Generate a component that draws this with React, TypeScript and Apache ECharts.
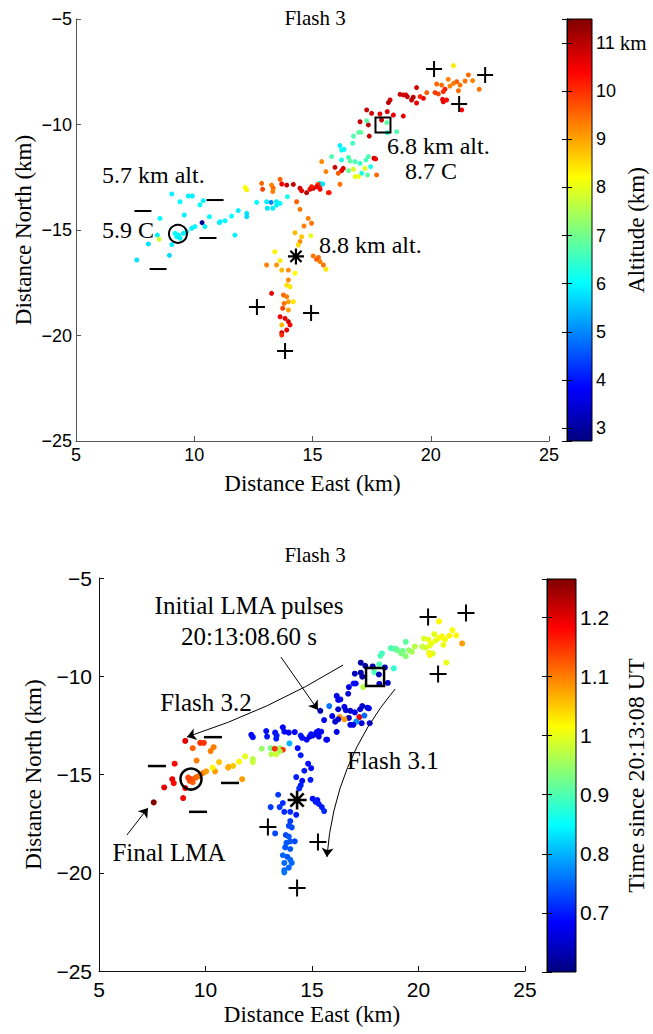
import React, { useEffect, useRef } from "react";
import * as echarts from "echarts";

// ---- LMA source points (same sources in both panels) ----
const eastKm = [
  // west branch
  9.05, 9.75, 9.92, 9.40, 10.38, 10.24, 9.58, 8.55, 8.44, 8.06, 9.05, 9.26, 9.40, 9.33, 9.19, 9.54, 9.68, 9.89, 10.03, 10.45,
  10.64, 11.09, 11.30, 11.06, 11.58, 11.86, 12.22, 12.22, 11.72, 8.95, 7.57, 12.64, 13.06, 13.48, 13.63, 13.48, 13.09, 13.32, 13.94, 15.30,
  10.33, 13.25, 8.51, 12.15, 12.22,
  // horizontal junction
  12.85, 12.89, 13.27, 13.34, 13.32, 13.63, 13.70, 13.91, 14.19, 14.47, 14.54, 14.75, 14.89, 15.03, 15.22, 15.32, 15.67,
  // southern branch
  14.33, 14.47, 14.82, 14.96, 14.64, 14.93, 14.26, 14.54, 14.47, 14.40, 13.41, 13.63, 13.48, 13.06, 13.70, 13.98, 14.26, 13.98,
  13.91, 14.05, 13.77, 13.91, 14.19, 13.98, 13.80, 13.74, 13.98, 13.63, 13.84, 13.98, 14.05, 13.91, 13.70, 13.70, 13.27, 13.70,
  // east spur near asterisk
  15.03, 15.25, 15.32, 15.46, 15.57, 15.17,
  // north-east arm
  20.96, 20.74, 20.25, 20.46, 20.60, 20.81, 20.96, 21.10, 21.24, 21.45, 21.59, 21.77, 22.05, 20.53, 21.17, 20.50, 20.67, 20.53,
  20.32, 20.18, 19.83, 19.69, 19.55, 19.40, 19.26, 19.19, 19.40, 18.84, 18.70, 18.95, 19.01, 18.28, 18.21, 18.84, 17.29, 17.50,
  17.85, 18.16, 18.42, 17.92, 17.36, 17.01, 17.40, 21.31,
  // middle cluster
  17.29, 18.14, 18.56, 18.16, 17.05, 16.95, 16.73, 16.70, 16.16, 16.23, 16.33, 15.81, 16.23, 16.52, 16.59, 16.80, 17.01, 17.26,
  17.36, 17.60, 17.67, 17.22, 17.33, 17.08, 16.94, 16.80, 16.73, 16.52, 16.30, 16.23, 16.09, 15.95, 15.57, 15.39, 16.16, 17.71,
  17.46, 15.43, 15.18, 14.96, 15.71, 15.32,
];
const northKm = [
  -13.29, -13.39, -13.39, -13.66, -13.61, -13.81, -14.29, -14.45, -15.24, -15.66, -15.69, -15.32, -15.39, -15.24, -15.16, -15.16, -15.08, -14.92, -14.84, -14.84,
  -14.37, -14.61, -14.56, -14.65, -14.34, -14.08, -14.21, -14.37, -15.24, -16.20, -16.42, -13.69, -13.66, -13.66, -13.74, -13.82, -13.97, -13.97, -13.42, -12.79,
  -14.65, -13.69, -15.44, -12.98, -13.10,
  -12.79, -13.07, -12.87, -13.02, -13.18, -12.60, -12.82, -12.87, -12.84, -13.02, -13.14, -13.23, -13.07, -13.02, -12.84, -12.87, -13.23,
  -13.66, -14.02, -14.45, -14.68, -14.81, -15.27, -15.13, -15.32, -15.55, -15.71, -16.03, -16.45, -16.66, -16.66, -16.90, -16.90, -17.05, -17.37,
  -17.61, -17.69, -18.08, -18.16, -18.40, -18.40, -18.48, -18.71, -18.79, -19.11, -19.19, -19.34, -19.50, -19.74, -19.87, -19.98, -18.00, -19.50,
  -16.23, -16.30, -16.50, -16.66, -16.86, -16.39,
  -7.21, -7.86, -8.08, -8.13, -8.33, -8.18, -8.05, -7.97, -8.13, -7.94, -7.65, -7.92, -8.33, -8.44, -8.40, -8.81, -8.84, -8.92,
  -8.55, -8.49, -8.49, -8.76, -8.68, -8.25, -8.71, -8.84, -8.98, -8.60, -8.57, -8.60, -8.68, -8.84, -8.96, -9.60, -9.31, -9.47,
  -9.50, -9.39, -9.55, -9.79, -10.02, -9.87, -10.55, -9.31,
  -9.82, -9.91, -10.34, -10.39, -10.37, -10.37, -10.55, -10.89, -11.00, -11.21, -11.18, -11.52, -11.68, -11.56, -11.73, -11.76, -11.84, -11.68,
  -11.52, -11.60, -11.63, -12.08, -12.39, -12.31, -12.47, -12.47, -12.12, -12.19, -12.08, -12.19, -12.31, -12.03, -12.23, -11.76, -12.83, -12.39,
  -12.00, -12.82, -12.95, -12.95, -13.23, -13.07,
];
const altitudeKm = [
  5.9, 5.9, 5.9, 6.0, 5.9, 6.0, 5.9, 6.0, 5.9, 5.8, 5.9, 6.0, 5.9, 5.9, 6.0, 5.9, 6.0, 5.9, 6.0, 5.9,
  6.0, 5.9, 6.0, 5.9, 6.0, 5.9, 5.8, 5.7, 5.9, 5.7, 5.8, 6.0, 5.9, 5.9, 6.0, 5.9, 5.8, 5.9, 6.2, 5.9,
  2.9, 5.0, 7.8, 8.2, 8.3,
  9.5, 9.8, 9.3, 9.5, 9.3, 9.6, 10.5, 10.8, 10.9, 10.8, 10.6, 11.0, 10.5, 10.8, 9.8, 10.1, 10.2,
  9.6, 9.4, 9.3, 9.4, 9.3, 8.0, 8.8, 8.7, 9.2, 8.5, 8.3, 8.4, 9.1, 9.3, 8.8, 9.2, 8.2, 9.2,
  8.5, 8.4, 9.5, 9.3, 8.4, 9.0, 9.4, 9.8, 9.0, 10.5, 10.6, 10.8, 10.5, 10.6, 10.7, 10.0, 10.6, 8.8,
  9.4, 9.5, 9.3, 9.4, 8.4, 9.6,
  8.4, 9.3, 9.5, 9.5, 10.2, 9.3, 9.3, 9.6, 9.4, 9.4, 9.5, 9.3, 9.4, 10.0, 9.5, 10.5, 10.3, 10.6,
  9.8, 9.9, 9.6, 10.6, 10.1, 10.8, 11.0, 10.9, 10.6, 10.8, 10.9, 10.7, 10.9, 10.8, 11.0, 10.6, 10.9, 10.8,
  10.6, 10.8, 10.5, 10.9, 11.0, 10.9, 10.8, 10.4,
  6.8, 6.8, 6.7, 6.4, 6.9, 6.8, 6.7, 6.6, 5.9, 6.2, 6.0, 6.7, 6.2, 6.6, 6.8, 6.6, 6.5, 6.6,
  6.7, 10.8, 10.5, 7.9, 6.8, 6.3, 8.1, 8.0, 7.9, 6.9, 10.8, 10.6, 9.6, 10.9, 9.3, 9.2, 9.4, 9.5,
  6.2, 5.8, 10.6, 10.2, 10.2, 10.4,
];
const timeSec = [
  1.20, 1.15, 1.15, 1.12, 1.10, 1.10, 1.10, 1.18, 1.20, 1.20, 1.18, 1.13, 1.12, 1.13, 1.14, 1.12, 1.11, 1.10, 1.08, 1.08,
  1.05, 1.07, 1.05, 1.07, 1.02, 1.00, 0.97, 0.98, 1.08, 1.19, 1.26, 0.95, 0.93, 0.95, 1.15, 0.96, 0.97, 0.98, 0.80, 0.68,
  1.02, 1.15, 1.18, 0.68, 0.69,
  0.69, 0.70, 0.69, 0.70, 0.70, 0.68, 0.69, 0.68, 0.68, 0.70, 0.69, 0.68, 0.68, 0.67, 0.68, 0.68, 0.67,
  0.69, 0.70, 0.69, 0.69, 0.70, 0.70, 0.70, 0.69, 0.70, 0.71, 0.72, 0.71, 0.72, 0.72, 0.71, 0.71, 0.70, 0.72,
  0.73, 0.73, 0.73, 0.74, 0.73, 0.74, 0.74, 0.74, 0.74, 0.75, 0.74, 0.75, 0.75, 0.75, 0.75, 0.76, 0.73, 0.75,
  0.69, 0.69, 0.70, 0.70, 0.71, 0.70,
  1.02, 1.00, 0.99, 1.00, 1.01, 1.00, 1.01, 1.02, 1.01, 1.02, 1.01, 1.02, 1.08, 1.00, 1.00, 1.00, 0.99, 1.02,
  0.99, 0.98, 0.97, 0.96, 0.95, 0.91, 0.92, 0.93, 0.94, 0.90, 0.90, 0.91, 0.92, 0.89, 0.90, 0.88, 0.63, 0.62,
  0.63, 0.90, 0.64, 0.90, 0.63, 0.64, 0.97, 1.00,
  0.63, 0.64, 0.65, 0.64, 0.67, 0.69, 0.67, 0.66, 0.67, 0.68, 0.67, 0.76, 0.65, 0.67, 0.66, 0.65, 0.67, 0.66,
  0.65, 0.66, 0.67, 1.20, 0.66, 0.78, 0.67, 0.66, 0.65, 1.08, 1.09, 0.66, 0.65, 0.67, 0.68, 0.63, 0.67, 0.67,
  0.75, 0.68, 0.68, 0.69, 0.68, 0.67,
];

// ---- charge / reference markers ----
const topPlus = [[20.14, -7.37], [22.3, -7.65], [21.2, -9.03], [12.65, -18.65], [14.94, -18.93], [13.84, -20.73]];
const topMinus = [[7.83, -14.1], [10.88, -13.58], [10.58, -15.38], [8.47, -16.85]];
const topCircle = [[9.31, -15.18]];
const topSquare = [[17.98, -10.02]];
const topStar = [[14.3, -16.25]];
const botPlus = [[20.45, -6.98], [22.23, -6.78], [20.92, -9.89], [12.93, -17.67], [15.28, -18.43], [14.3, -20.78]];
const botMinus = [[7.72, -14.57], [10.35, -13.1], [11.15, -15.43], [9.65, -16.9]];
const botCircle = [[9.32, -15.23]];
const botSquare = [[17.96, -10.04]];
const botStar = [[14.3, -16.3]];

// arrows (bottom panel) : start, end, curveness
const arrowLines = [
  { from: [13.54, -9.02], to: [15.28, -11.72], curve: 0 },
  { from: [16.46, -9.43], to: [9.13, -13.09], curve: 0.06 },
  { from: [18.9, -10.65], to: [15.7, -19.2], curve: -0.16 },
  { from: [6.31, -18.08], to: [7.3, -16.7], curve: 0 },
];

const altRange = [2.73, 11.5];
const timeRange = [0.6, 1.265];

const JET = ["#00007f", "#0000ff", "#007fff", "#00ffff", "#7fff7f", "#ffff00", "#ff7f00", "#ff0000", "#7f0000"];

const SERIF = "'Liberation Serif', 'Times New Roman', serif";
const SANS = "'Liberation Sans', Arial, Helvetica, sans-serif";

const G_TOP = { left: 76, top: 19, width: 473, height: 422 };
const G_BOT = { left: 99, top: 578, width: 426, height: 393 };
const CB_TOP = { left: 567, top: 19, width: 25, height: 422 };
const CB_BOT = { left: 547, top: 579, width: 29, height: 393 };

const minusFmt = (v: number) => (v < 0 ? "\u2212" + Math.abs(v) : String(v));

function mainX(gridIndex: number, fs: number, color: string, margin: number, gap: number) {
  return {
    type: "value", gridIndex, min: 5, max: 25, interval: 5,
    axisLine: { show: true, lineStyle: { color, width: 1 } },
    axisTick: { show: true, inside: true, length: 5, lineStyle: { color } },
    axisLabel: { color: "#000", fontSize: fs, fontFamily: SANS, margin, formatter: minusFmt },
    splitLine: { show: false },
    name: "Distance East (km)", nameLocation: "middle", nameGap: gap, nameMoveOverlap: false,
    nameTextStyle: { color: "#000", fontSize: 23, fontFamily: SERIF },
  };
}
function mainY(gridIndex: number, fs: number, color: string, margin: number, gap: number) {
  return {
    type: "value", gridIndex, min: -25, max: -5, interval: 5,
    axisLine: { show: true, lineStyle: { color, width: 1 } },
    axisTick: { show: true, inside: true, length: 5, lineStyle: { color } },
    axisLabel: { color: "#000", fontSize: fs, fontFamily: SANS, margin, formatter: minusFmt },
    splitLine: { show: false },
    name: "Distance North (km)", nameLocation: "middle", nameGap: gap, nameRotate: 90, nameMoveOverlap: false,
    nameTextStyle: { color: "#000", fontSize: 23, fontFamily: SERIF },
  };
}

function gradientRect(g: any) {
  return {
    type: "rect", z: -1, silent: true,
    shape: { x: g.left, y: g.top, width: g.width, height: g.height },
    style: {
      fill: new echarts.graphic.LinearGradient(0, 1, 0, 0, JET.map((c, i) => ({ offset: i / (JET.length - 1), color: c }))),
    },
  };
}

function markerSeries(x: number, data: number[][], symbol: string, size: any, filled: boolean, bw: number) {
  return {
    type: "scatter", xAxisIndex: x, yAxisIndex: x, data, symbol, symbolSize: size, silent: true, z: 4,
    itemStyle: filled
      ? { color: "#000", opacity: 1 }
      : { color: "rgba(0,0,0,0)", borderColor: "#000", borderWidth: bw, opacity: 1 },
  };
}

const PLUS = "path://M5,0L5,10M0,5L10,5";
const STAR = "path://M5,0L5,10M0,5L10,5M1.5,1.5L8.5,8.5M1.5,8.5L8.5,1.5";

function txt(text: string, x: number, y: number, size: number, align = "center") {
  return {
    type: "text", x, y, silent: true,
    style: { text, fill: "#000", fontSize: size, fontFamily: SERIF, align, verticalAlign: "middle" },
  };
}

const GRID_BASE = { containLabel: false, outerBoundsMode: "none" };

export default function App() {
  const ref = useRef<HTMLDivElement>(null);
  useEffect(() => {
    const chart = echarts.init(ref.current!, null, { renderer: "svg" });
    const topData = eastKm.map((e, i) => [e, northKm[i], altitudeKm[i]]);
    const botData = eastKm.map((e, i) => [e, northKm[i], timeSec[i]]);

    const option: any = {
      animation: false,
      backgroundColor: "#fff",
      grid: [
        { ...G_TOP, ...GRID_BASE },
        { ...G_BOT, ...GRID_BASE },
        { ...CB_TOP, ...GRID_BASE, show: true, borderColor: "#000", borderWidth: 1, backgroundColor: "transparent" },
        { ...CB_BOT, ...GRID_BASE, show: true, borderColor: "#000", borderWidth: 1, backgroundColor: "transparent" },
      ],
      xAxis: [
        mainX(0, 18, "#555", 5, 31),
        mainX(1, 21, "#111", 8, 32),
        { type: "value", gridIndex: 2, min: 0, max: 1, show: false },
        { type: "value", gridIndex: 3, min: 0, max: 1, show: false },
      ],
      yAxis: [
        mainY(0, 18, "#555", 4, 41),
        mainY(1, 21, "#111", 7, 54),
        {
          type: "value", gridIndex: 2, position: "right", min: altRange[0], max: altRange[1], minInterval: 1, maxInterval: 1,
          axisLine: { show: true, lineStyle: { color: "#000" } },
          axisTick: { show: true, inside: true, length: 5, lineStyle: { color: "#000" } },
          axisLabel: {
            color: "#000", fontSize: 18, fontFamily: SANS, margin: 4,
            formatter: (v: number) =>
              Math.abs(v - Math.round(v)) < 1e-6 && v >= 3 && v <= 11 ? (v === 11 ? "11 {u|km}" : String(v)) : "",
            rich: { u: { fontFamily: SERIF, fontSize: 21, color: "#000" } },
          },
          splitLine: { show: false },
          name: "Altitude (km)", nameLocation: "middle", nameGap: 33, nameRotate: 90, nameMoveOverlap: false,
          nameTextStyle: { color: "#000", fontSize: 23, fontFamily: SERIF },
        },
        {
          type: "value", gridIndex: 2, position: "left", min: altRange[0], max: altRange[1], minInterval: 1, maxInterval: 1,
          axisLine: { show: true, lineStyle: { color: "#000" } },
          axisTick: { show: true, inside: true, length: 5, lineStyle: { color: "#000" } },
          axisLabel: { show: false }, splitLine: { show: false },
        },
        {
          type: "value", gridIndex: 3, position: "right", min: timeRange[0], max: timeRange[1], interval: 0.1,
          axisLine: { show: true, lineStyle: { color: "#000" } },
          axisTick: { show: true, inside: true, length: 5, lineStyle: { color: "#000" } },
          axisLabel: {
            color: "#000", fontSize: 21, fontFamily: SANS, margin: 4,
            formatter: (v: number) => {
              const r = Math.round(v * 10) / 10;
              if (Math.abs(v - r) > 1e-6 || r < 0.65 || r > 1.25) return "";
              return String(r);
            },
          },
          splitLine: { show: false },
          name: "Time since 20:13:08 UT", nameLocation: "middle", nameGap: 48, nameRotate: 90, nameMoveOverlap: false,
          nameTextStyle: { color: "#000", fontSize: 24, fontFamily: SERIF },
        },
        {
          type: "value", gridIndex: 3, position: "left", min: timeRange[0], max: timeRange[1], interval: 0.1,
          axisLine: { show: true, lineStyle: { color: "#000" } },
          axisTick: { show: true, inside: true, length: 5, lineStyle: { color: "#000" } },
          axisLabel: { show: false }, splitLine: { show: false },
        },
      ],
      visualMap: [
        { type: "continuous", show: false, seriesIndex: 0, dimension: 2, min: altRange[0], max: altRange[1], inRange: { color: JET } },
        { type: "continuous", show: false, seriesIndex: 1, dimension: 2, min: timeRange[0], max: timeRange[1], inRange: { color: JET } },
      ],
      series: [
        { type: "scatter", xAxisIndex: 0, yAxisIndex: 0, data: topData, symbolSize: 5, silent: true, z: 2, itemStyle: { opacity: 1 } },
        { type: "scatter", xAxisIndex: 1, yAxisIndex: 1, data: botData, symbolSize: 6, silent: true, z: 2, itemStyle: { opacity: 1 } },
        markerSeries(0, topPlus, PLUS, 16, false, 2),
        markerSeries(0, topMinus, "rect", [17, 2], true, 0),
        markerSeries(0, topCircle, "circle", 18, false, 2),
        markerSeries(0, topSquare, "rect", 15, false, 2),
        markerSeries(0, topStar, STAR, 16, false, 2.2),
        markerSeries(1, botPlus, PLUS, 17, false, 2),
        markerSeries(1, botMinus, "rect", [18, 2.5], true, 0),
        markerSeries(1, botCircle, "circle", 21, false, 2.5),
        markerSeries(1, botSquare, "rect", 18, false, 2.5),
        markerSeries(1, botStar, STAR, 19, false, 2.6),
        {
          type: "lines", coordinateSystem: "cartesian2d", xAxisIndex: 1, yAxisIndex: 1, silent: true, z: 5,
          symbol: ["none", "arrow"], symbolSize: 9,
          lineStyle: { color: "#000", width: 1, opacity: 1 },
          data: arrowLines.map((a) => ({ coords: [a.from, a.to], lineStyle: { curveness: a.curve } })),
        },
      ],
      graphic: [
        gradientRect(CB_TOP),
        gradientRect(CB_BOT),
        txt("Flash 3", 315, 18, 21),
        txt("Flash 3", 315, 555, 21),
        txt("5.7 km alt.", 102, 175, 24, "left"),
        txt("5.9 C", 102, 230, 24, "left"),
        txt("6.8 km alt.", 387, 146, 24, "left"),
        txt("8.7 C", 405, 171, 24, "left"),
        txt("8.8 km alt.", 319, 245, 24, "left"),
        txt("Initial LMA pulses", 249, 605, 25),
        txt("20:13:08.60 s", 249, 636, 25),
        txt("Flash 3.2", 206, 702, 25),
        txt("Flash 3.1", 347, 760, 25, "left"),
        txt("Final LMA", 169, 852, 25),
      ],
    };
    chart.setOption(option);
    return () => chart.dispose();
  }, []);
  return (
    <div
      ref={ref}
      style={{ position: "fixed", left: 0, top: 0, width: 653, height: 1034, background: "#fff" }}
    />
  );
}
